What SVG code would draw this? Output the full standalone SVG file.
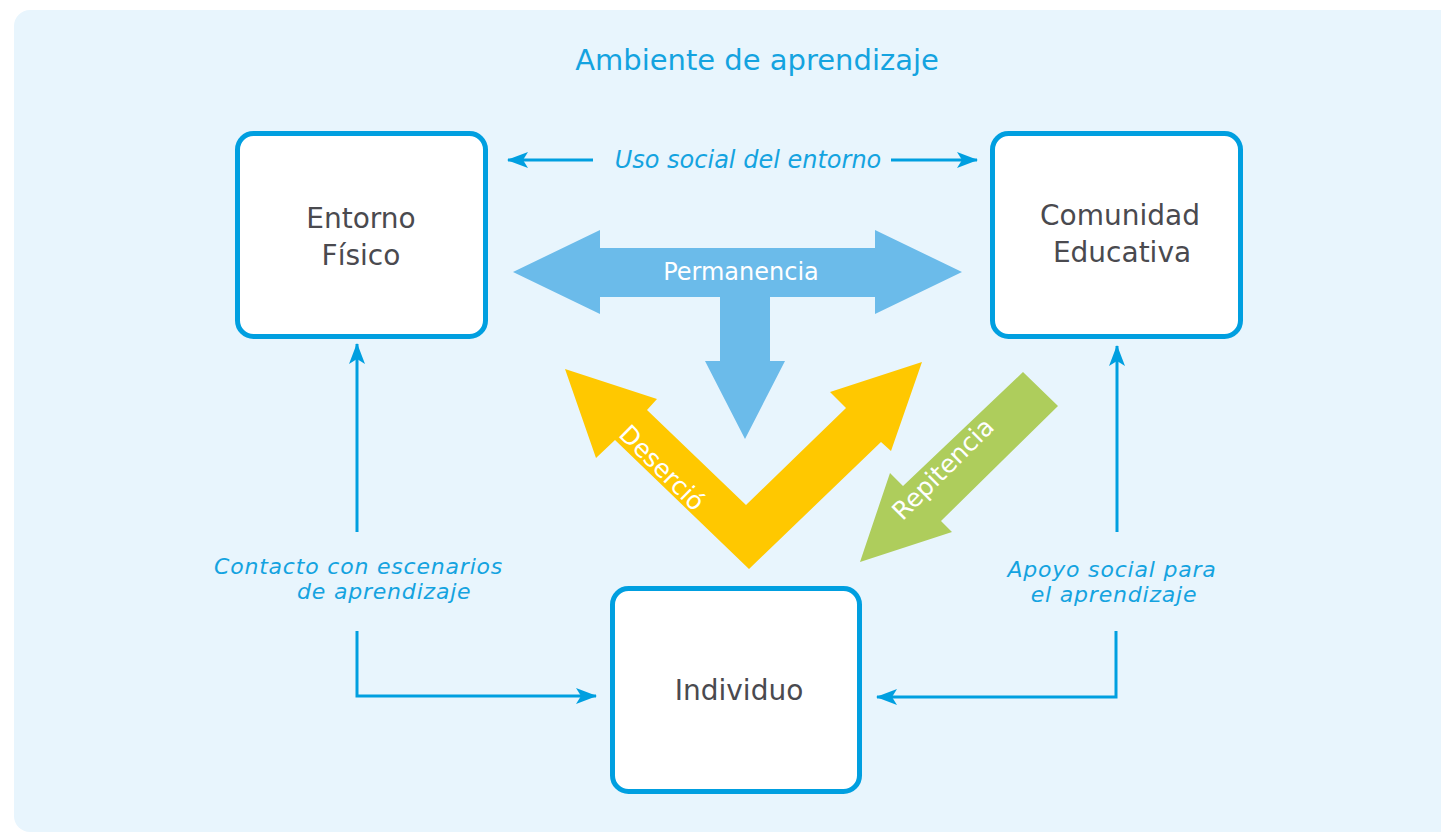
<svg xmlns="http://www.w3.org/2000/svg" width="1441" height="833" viewBox="0 0 1441 833">
<style>
.box{fill:#ffffff;stroke:#009FE0;stroke-width:5}
.ntext{font-family:"DejaVu Sans","Liberation Sans",sans-serif;font-size:28px;fill:#4A4A4F;text-anchor:middle}
.lbl{font-family:"DejaVu Sans","Liberation Sans",sans-serif;font-size:24px;font-style:italic;fill:#14A3E0}
.lbl2{font-family:"DejaVu Sans","Liberation Sans",sans-serif;font-size:22px;letter-spacing:0.8px;font-style:italic;fill:#14A3E0}
.conn{fill:none;stroke:#009FE0;stroke-width:3}
.wt{font-family:"DejaVu Sans","Liberation Sans",sans-serif;fill:#ffffff;text-anchor:middle}
</style>
<defs>
<marker id="ah" markerUnits="userSpaceOnUse" markerWidth="21" markerHeight="16" refX="20" refY="8" orient="auto" viewBox="0 0 21 16">
<path d="M0,0 L21,8 L0,16 L5,8 z" fill="#009FE0"/>
</marker>
</defs>
<rect x="0" y="0" width="1441" height="833" fill="#ffffff"/>
<rect id="panel" x="14" y="10" width="1460" height="822" rx="16" fill="#E8F5FD"/>
<text id="title" x="757" y="70" font-family="DejaVu Sans, Liberation Sans, sans-serif" font-size="29" fill="#14A3E0" text-anchor="middle">Ambiente de aprendizaje</text>

<g id="connectors">
<line class="conn" x1="593" y1="160" x2="508" y2="160" marker-end="url(#ah)"/>
<line class="conn" x1="891" y1="160" x2="977" y2="160" marker-end="url(#ah)"/>
<line class="conn" x1="357" y1="532" x2="357" y2="344" marker-end="url(#ah)"/>
<polyline class="conn" points="357,631 357,696 596,696" marker-end="url(#ah)"/>
<line class="conn" x1="1117" y1="532" x2="1117" y2="346" marker-end="url(#ah)"/>
<polyline class="conn" points="1116,631 1116,697 877,697" marker-end="url(#ah)"/>
<text class="lbl" x="748" y="168" text-anchor="middle">Uso social del entorno</text>
<text class="lbl2" x="214" y="574">Contacto con escenarios</text>
<text class="lbl2" x="297" y="599">de aprendizaje</text>
<text class="lbl2" x="1112" y="577" text-anchor="middle">Apoyo social para</text>
<text class="lbl2" x="1114" y="602" text-anchor="middle">el aprendizaje</text>
</g>

<g id="permanencia">
<polygon points="513,272 600,230 600,248 875,248 875,230 962,272 875,314 875,297 770,297 770,361 785,361 745,439 705,361 720,361 720,297 600,297 600,314" fill="#6BBBEA"/>
<text class="wt" x="741" y="280" font-size="24">Permanencia</text>
</g>

<g id="desercion">
<polygon points="749,569 615,440 596,458 565,369 657,399 647,410 746,505 846,408 830,392 922,362 891,451 881,442" fill="#FFC800"/>
<text class="wt" x="656" y="474" font-size="25" transform="rotate(45 656 474)">Deserció</text>
</g>

<g id="repitencia">
<polygon points="1023,372 1058,406 941,521 952,532 860,562 890,473 903,486" fill="#AECD5C"/>
<text class="wt" x="949" y="475" font-size="25" transform="rotate(-45 949 475)">Repitencia</text>
</g>

<g id="entorno-fisico">
<rect class="box" x="237.5" y="133.5" width="248" height="203" rx="16"/>
<text class="ntext" x="361" y="228">Entorno</text>
<text class="ntext" x="361" y="265">Físico</text>
</g>

<g id="comunidad-educativa">
<rect class="box" x="992.5" y="133.5" width="248" height="203" rx="16"/>
<text class="ntext" x="1120" y="225">Comunidad</text>
<text class="ntext" x="1122" y="262">Educativa</text>
</g>

<g id="individuo">
<rect class="box" x="612.5" y="588.5" width="247" height="203" rx="16"/>
<text class="ntext" x="739" y="700">Individuo</text>
</g>
</svg>
